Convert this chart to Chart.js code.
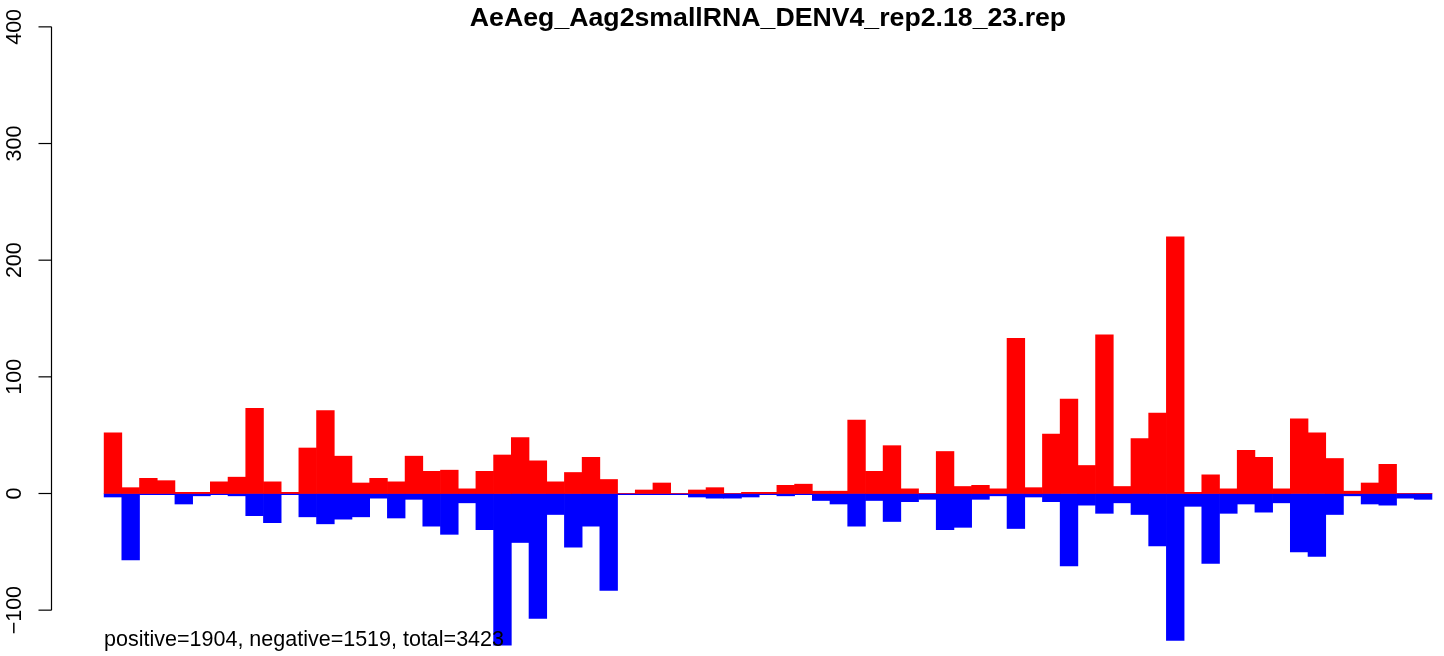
<!DOCTYPE html>
<html>
<head>
<meta charset="utf-8">
<script src="https://cdn.jsdelivr.net/npm/chart.js@4"></script>
<style>
  html, body { margin: 0; padding: 0; background: #ffffff; overflow: hidden; }
  #c { display: block; }
</style>
</head>
<body>
<canvas id="c" width="1444" height="656"></canvas>
<script>
const titleText = "AeAeg_Aag2smallRNA_DENV4_rep2.18_23.rep";
const noteText = "positive=1904, negative=1519, total=3423";

const positive = [52, 5, 13, 11, 1, 1, 10, 14, 73, 10,
                  1, 39, 71, 32, 9, 13, 10, 32, 19, 20,
                  4, 19, 33, 48, 28, 10, 18, 31, 12, 0,
                  3, 9, 0, 3, 5, 0, 1, 1, 7, 8,
                  2, 2, 63, 19, 41, 4, 0, 36, 6, 7,
                  4, 133, 5, 51, 81, 24, 136, 6, 47, 69,
                  220, 1, 16, 4, 37, 31, 4, 64, 52, 30,
                  2, 9, 25, 0, 0];

const negative = [-3, -57, -1, -1, -9, -2, -1, -2, -19, -25,
                  -1, -20, -26, -22, -20, -4, -21, -5, -28, -35,
                  -8, -31, -130, -42, -107, -18, -46, -28, -83, -1,
                  -1, -1, -1, -3, -4, -4, -3, -1, -2, -1,
                  -6, -9, -28, -6, -24, -7, -5, -31, -29, -5,
                  -2, -30, -3, -7, -62, -10, -17, -8, -18, -45,
                  -126, -11, -60, -17, -9, -16, -8, -50, -54, -18,
                  -2, -9, -10, -4, -5];

const bins = positive.map((_, i) => i);   // bin index (bar i spans [i, i+1])
const yTicks = [-100, 0, 100, 200, 300, 400];

const FONT = "'Liberation Sans', Arial, Helvetica, sans-serif";

const rAxisPlugin = {
  id: 'rAxis',
  afterDraw(chart) {
    const ctx = chart.ctx;
    const ys = chart.scales.y;
    const xs = chart.scales.x;
    const left = chart.chartArea.left;
    ctx.save();
    ctx.strokeStyle = '#000000';
    ctx.lineWidth = 1.2;
    const ax = Math.round(left) + 0.5;
    ctx.beginPath();
    ctx.moveTo(ax, ys.getPixelForValue(yTicks[0]));
    ctx.lineTo(ax, ys.getPixelForValue(yTicks[yTicks.length - 1]));
    ctx.stroke();
    ctx.fillStyle = '#000000';
    ctx.font = "21.5px " + FONT;
    ctx.textAlign = 'center';
    ctx.textBaseline = 'alphabetic';
    yTicks.forEach(v => {
      const py = ys.getPixelForValue(v);
      ctx.beginPath();
      ctx.moveTo(ax - 13, py);
      ctx.lineTo(ax, py);
      ctx.stroke();
      ctx.save();
      ctx.translate(21, py);
      ctx.rotate(-Math.PI / 2);
      ctx.fillText(v < 0 ? '\u2212' + Math.abs(v) : String(v), 0, 0);
      ctx.restore();
    });
    // title
    ctx.font = "bold 26.7px " + FONT;
    ctx.textAlign = 'center';
    ctx.fillText(titleText, 768, 26);
    // note
    ctx.font = "21.5px " + FONT;
    ctx.textAlign = 'left';
    ctx.fillText(noteText, xs.getPixelForValue(bins[0]), 646);
    ctx.restore();
  }
};

new Chart(document.getElementById('c'), {
  type: 'bar',
  data: {
    datasets: [
      {
        label: 'positive',
        data: bins.map((b, i) => ({ x: b + 0.5, y: positive[i] })),
        backgroundColor: '#FF0000',
        borderWidth: 0,
        grouped: false,
        barPercentage: 1,
        categoryPercentage: 1
      },
      {
        label: 'negative',
        data: bins.map((b, i) => ({ x: b + 0.5, y: negative[i] })),
        backgroundColor: '#0000FF',
        borderWidth: 0,
        grouped: false,
        barPercentage: 1,
        categoryPercentage: 1
      }
    ]
  },
  options: {
    responsive: false,
    devicePixelRatio: 1,
    animation: false,
    layout: { padding: { left: 51, right: 0, top: 10, bottom: 6 } },
    plugins: { legend: { display: false }, tooltip: { enabled: false }, title: { display: false } },
    scales: {
      x: {
        type: 'linear',
        display: false,
        offset: false,
        min: -3,
        max: 75.68,
        ticks: { stepSize: 10 },
        grid: { display: false }
      },
      y: {
        type: 'linear',
        display: false,
        min: -134.15,
        max: 414.45,
        grid: { display: false }
      }
    }
  },
  plugins: [rAxisPlugin]
});
</script>
</body>
</html>
